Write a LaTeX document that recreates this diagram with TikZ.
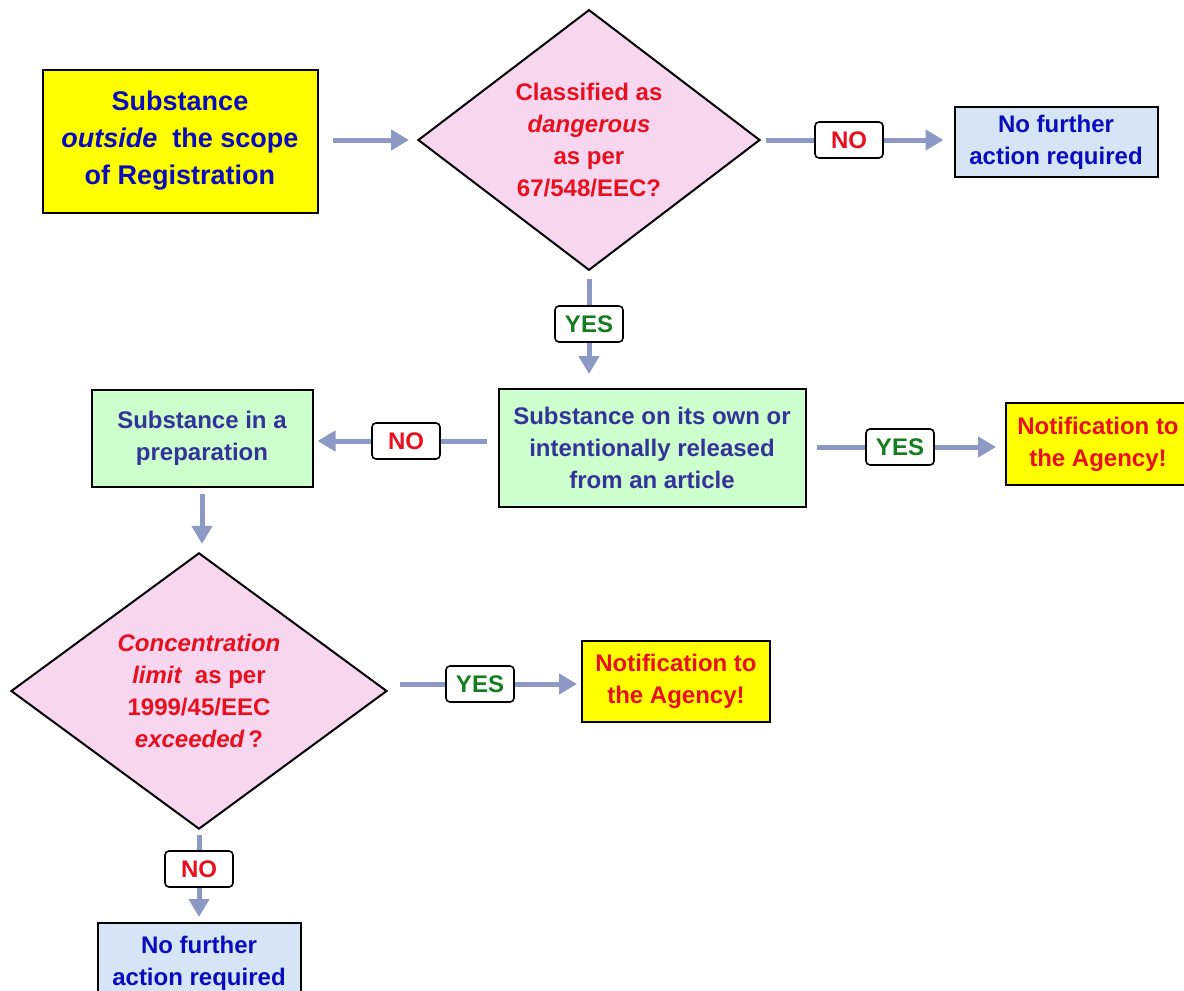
\documentclass[tikz,border=0pt]{standalone}
\usepackage{fontspec}
\setmainfont{Liberation Sans}
\usetikzlibrary{shapes.geometric,arrows.meta}

\definecolor{boxyellow}{RGB}{255,255,0}
\definecolor{boxgreen}{RGB}{204,255,204}
\definecolor{boxblue}{RGB}{214,229,245}
\definecolor{boxpink}{RGB}{247,214,240}
\definecolor{txtblue}{RGB}{10,10,190}
\definecolor{txtslate}{RGB}{51,51,153}
\definecolor{txtred}{RGB}{232,16,30}
\definecolor{txtgreen}{RGB}{20,125,30}
\definecolor{flowgray}{RGB}{141,153,197}

\tikzset{
  every node/.style={font=\fontsize{24}{32}\selectfont\bfseries, align=center},
  yellowbox/.style={draw, line width=2pt, fill=boxyellow, inner sep=0pt},
  greenbox/.style={draw, line width=2pt, fill=boxgreen, text=txtslate, inner sep=0pt},
  bluebox/.style={draw, line width=2pt, fill=boxblue, text=txtblue, inner sep=0pt},
  decision/.style={diamond, draw, line width=2pt, fill=boxpink, text=txtred, inner sep=0pt},
  answer/.style={draw, line width=1.6pt, rounded corners=4pt, fill=white,
    minimum width=68pt, minimum height=36pt, inner sep=0pt},
  link/.style={draw=flowgray, line width=5pt},
  flow/.style={link, -{Triangle[width=20pt,length=18pt]}},
}

\begin{document}
\begin{tikzpicture}[x=1pt,y=-1pt]
\useasboundingbox (0,0) rectangle (1184,991);
% boxes
\node[yellowbox, text=txtblue, font=\fontsize{27}{37}\selectfont\bfseries,
  minimum width=275pt, minimum height=143pt] (start) at (180,141)
  {Substance\\\itshape outside\upshape\ \ the scope\\of Registration};
\node[decision, minimum width=342pt, minimum height=256pt] (dangerous) at (589,140)
  {Classified as\\\itshape dangerous\\as per\\67/548/EEC?};
\node[bluebox, minimum width=203pt, minimum height=70pt] (nofurther1) at (1056,142)
  {No further\\action required};
\node[greenbox, minimum width=307pt, minimum height=118pt] (ownrelease) at (652,448)
  {Substance on its own or\\intentionally released\\from an article};
\node[greenbox, minimum width=221pt, minimum height=97pt] (preparation) at (202,438)
  {Substance in a\\preparation};
\node[yellowbox, text=txtred, minimum width=184pt, minimum height=82pt] (notify1) at (1098,444)
  {Notification to\\the Agency!};
\node[decision, minimum width=376pt, minimum height=248pt] (conclimit) at (199,691)
  {\itshape Concentration\\\itshape limit\upshape\ \ as per\\1999/45/EEC\\\itshape exceeded\upshape\,?};
\node[yellowbox, text=txtred, minimum width=188pt, minimum height=81pt] (notify2) at (676,681)
  {Notification to\\the Agency!};
\node[bluebox, minimum width=203pt, minimum height=80pt] (nofurther2) at (199,963)
  {No further\\action required};
% answers
\node[answer, text=txtred] (no1) at (849,140) {NO};
\node[answer, text=txtgreen] (yes1) at (589,324) {YES};
\node[answer, text=txtred] (no2) at (406,441) {NO};
\node[answer, text=txtgreen] (yes2) at (900,447) {YES};
\node[answer, text=txtgreen] (yes3) at (480,684) {YES};
\node[answer, text=txtred] (no3) at (199,869) {NO};
% connectors
\draw[flow, shorten <=14pt, shorten >=8pt] (start.east |- dangerous.west) -- (dangerous.west);
\draw[link, shorten <=5pt] (dangerous.east) -- (no1.west);
\draw[flow, shorten >=10pt] (no1.east) -- (no1.east -| nofurther1.west);
\draw[link, shorten <=8pt] (dangerous.south) -- (yes1.north);
\draw[flow, shorten >=14pt] (yes1.south) -- (ownrelease.north -| yes1.south);
\draw[link, shorten <=11pt] (ownrelease.west |- no2.east) -- (no2.east);
\draw[flow, shorten >=4pt] (no2.west) -- (no2.west -| preparation.east);
\draw[link, shorten <=10pt] (ownrelease.east |- yes2.west) -- (yes2.west);
\draw[flow, shorten >=9pt] (yes2.east) -- (yes2.east -| notify1.west);
\draw[flow, shorten <=6pt, shorten >=8pt] (preparation.south) -- (preparation.south |- conclimit.north);
\draw[link, shorten <=12pt] (conclimit.east |- yes3.west) -- (yes3.west);
\draw[flow, shorten >=4pt] (yes3.east) -- (yes3.east -| notify2.west);
\draw[link, shorten <=5pt] (conclimit.south) -- (no3.north);
\draw[flow, shorten >=5pt] (no3.south) -- (nofurther2.north);
\end{tikzpicture}
\end{document}
